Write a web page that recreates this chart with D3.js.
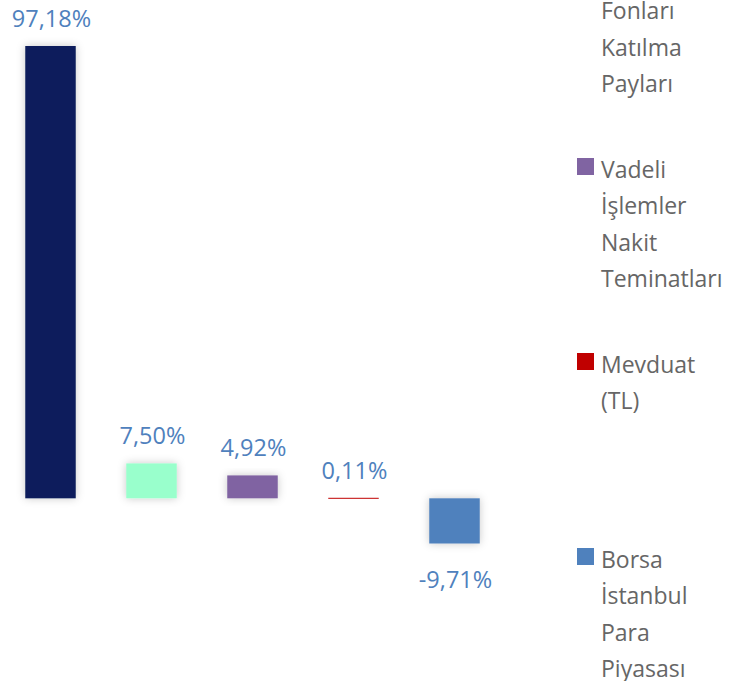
<!DOCTYPE html>
<html>
<head>
<meta charset="utf-8">
<script src="https://cdn.jsdelivr.net/npm/d3@7"></script>
<style>
  body { margin: 0; background: #fff; }
  svg { display: block; font-family: "Open Sans", "DejaVu Sans", sans-serif; }
</style>
</head>
<body>
<div id="chart"></div>
<script>
// chart data
var categories = ["Ters Repo", "Yatırım Fonları Katılma Payları", "Vadeli İşlemler Nakit Teminatları", "Mevduat (TL)", "Borsa İstanbul Para Piyasası"];
var values = [97.18, 7.50, 4.92, 0.11, -9.71];
var colors = ["#0b1f5b", "#99ffcc", "#8064a2", "#c00000", "#4f81bd"];

var width = 734, height = 681;

var svg = d3.select("#chart").append("svg")
    .attr("width", width).attr("height", height);

// soft shadow under the bars
var defs = svg.append("defs");
var filter = defs.append("filter").attr("id", "shadow")
    .attr("x", "-30%").attr("y", "-30%").attr("width", "160%").attr("height", "160%");
filter.append("feDropShadow")
    .attr("dx", 0).attr("dy", 0).attr("stdDeviation", 4)
    .attr("flood-color", "#000").attr("flood-opacity", 0.22);

var x = d3.scaleBand()
    .domain(categories)
    .range([0, 505])
    .paddingInner(0.5)
    .paddingOuter(0.25);

var y = d3.scaleLinear()
    .domain([-9.71, 97.18])
    .range([543.5, 46]);

// bars
var bars = svg.append("g");
bars.selectAll("rect")
    .data(values)
    .enter().append("rect")
    .attr("x", function(d, i){ return x(categories[i]); })
    .attr("y", function(d){ return Math.min(y(d), y(0)); })
    .attr("width", x.bandwidth())
    .attr("height", function(d){ return Math.max(1, Math.abs(y(d) - y(0))); })
    .attr("fill", function(d, i){ return colors[i]; })
    .attr("filter", function(d){ return Math.abs(d) > 1 ? "url(#shadow)" : null; });

// value labels
var fmt = function(d){ return d.toFixed(2).replace(".", ",") + "%"; };
svg.append("g").selectAll("text")
    .data(values)
    .enter().append("text")
    .attr("x", function(d, i){ return x(categories[i]) + x.bandwidth() / 2 + 1; })
    .attr("y", function(d){ return d >= 0 ? y(d) - 19 : y(d) + 44; })
    .attr("text-anchor", "middle")
    .attr("font-size", 23.5)
    .attr("fill", "#4f81bd")
    .text(fmt);

// legend, each item 195px apart, every word on its own line
var legendTop = -213, itemGap = 195, lineH = 36.3;
var legend = svg.append("g").attr("transform", "translate(577,0)");
var items = legend.selectAll("g")
    .data(categories)
    .enter().append("g")
    .attr("transform", function(d, i){ return "translate(0," + (legendTop + i * itemGap) + ")"; });

items.append("rect")
    .attr("x", 0).attr("y", -19)
    .attr("width", 17).attr("height", 17)
    .attr("fill", function(d, i){ return colors[i]; });

items.append("text")
    .attr("x", 24)
    .attr("font-size", 23)
    .attr("fill", "#666")
    .selectAll("tspan")
    .data(function(d){ return d.split(" "); })
    .enter().append("tspan")
    .attr("x", 24)
    .attr("y", function(d, j){ return j * lineH + 1; })
    .text(function(d){ return d; });
</script>
</body>
</html>
